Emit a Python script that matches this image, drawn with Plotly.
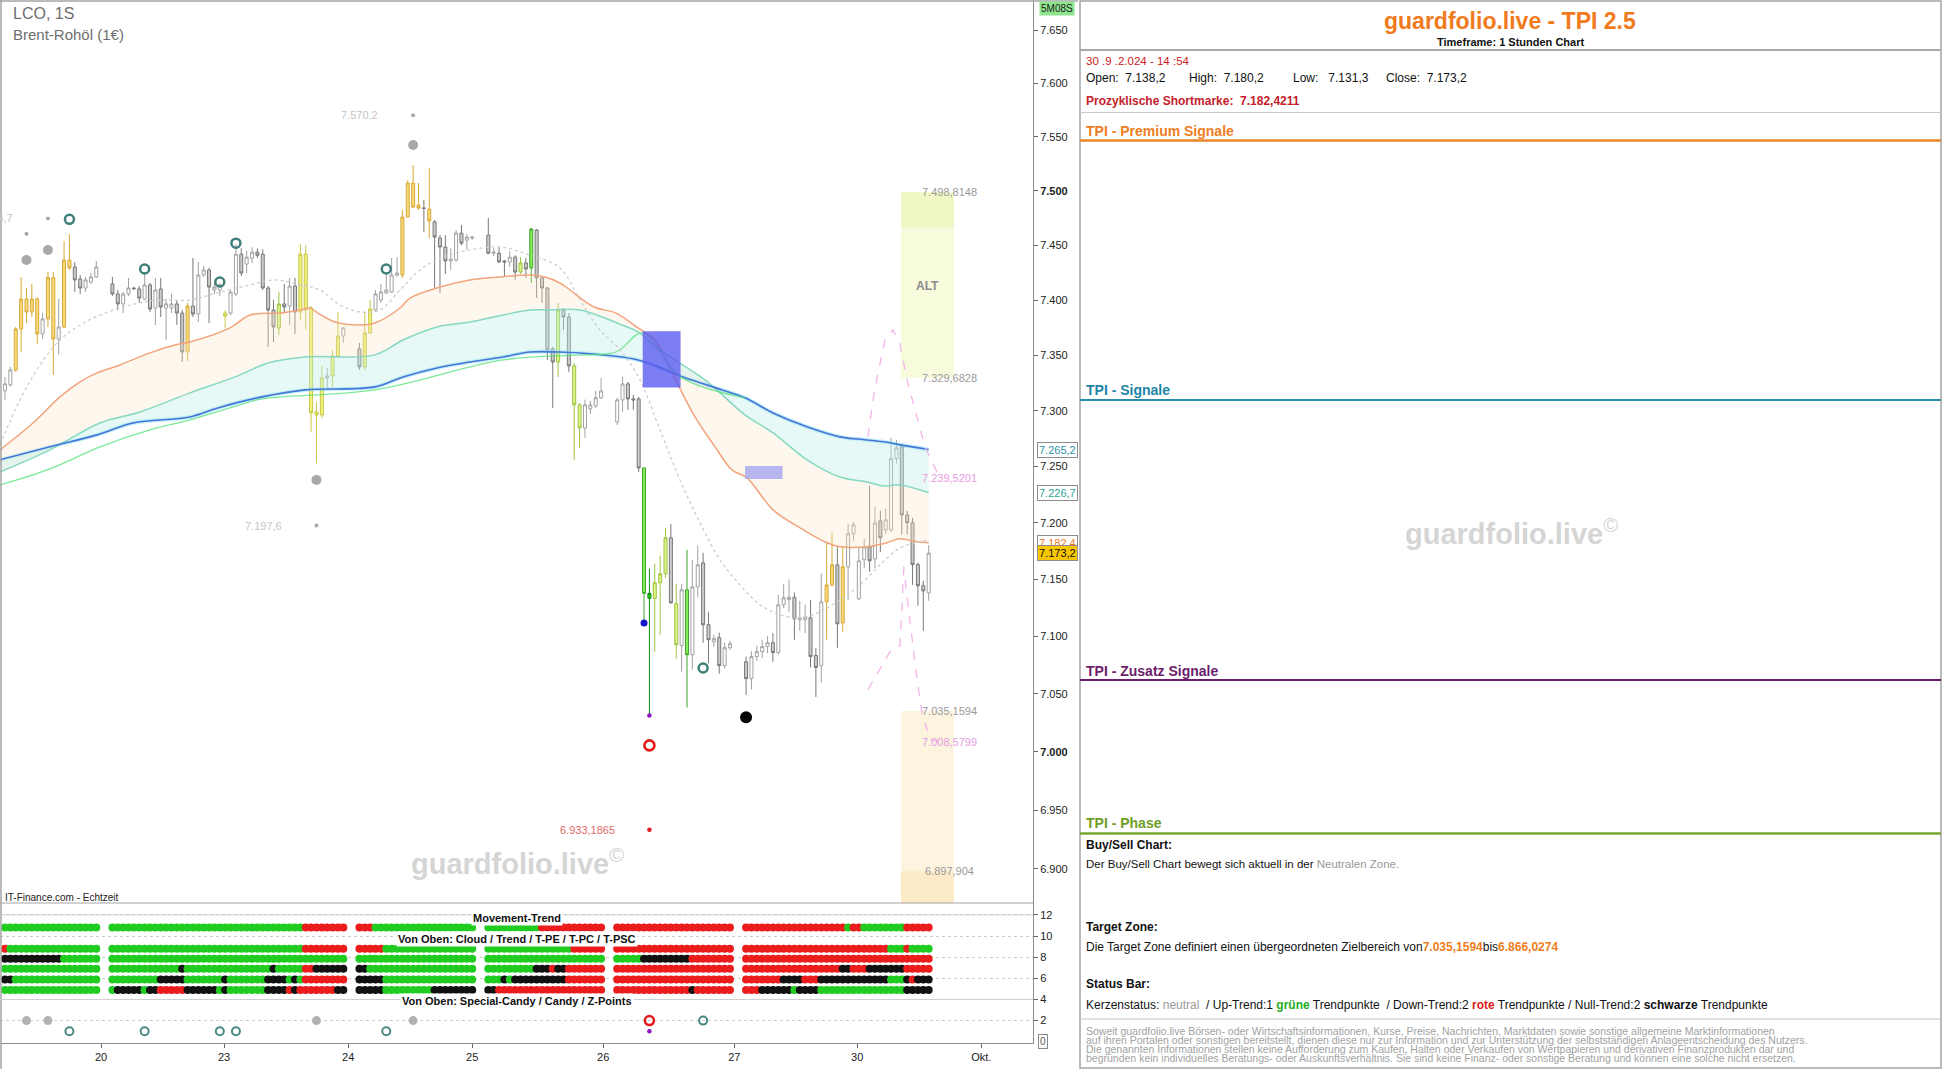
import math
import plotly.graph_objects as go

FIG_W, FIG_H = 1942, 1069
FONT = "Liberation Sans, Arial, Helvetica, sans-serif"

# ----------------------------------------------------------------------------
# Brent-Rohöl (LCO), 1-hour bars. Bars sit on consecutive slots; each trading
# block is followed by a couple of empty slots.
session_lengths = [18, 44, 22, 22, 22, 35]
session_gap = 2

opens = [
    7317.8, 7323.2, 7336.7, 7373.8, 7401.0, 7389.2, 7401.0, 7369.3, 7382.9, 7420.5,
    7364.7, 7375.6, 7436.6, 7430.2, 7419.3, 7411.0, 7416.5, 7421.1,
    7414.7, 7405.6, 7396.5, 7405.6, 7411.0, 7410.1, 7401.0, 7413.8, 7392.8, 7410.1,
    7392.8, 7392.8, 7396.5, 7388.2, 7353.0, 7394.6, 7387.3, 7422.9, 7427.5, 7409.2,
    7409.2, 7388.2, 7388.2, 7405.6, 7441.9, 7432.9, 7438.3, 7443.7, 7441.9, 7411.0,
    7391.0, 7374.7, 7396.5, 7394.6, 7412.8, 7389.2, 7441.9, 7392.8, 7298.9, 7296.2,
    7329.5, 7331.3, 7349.3, 7367.4,
    7355.7, 7339.4, 7370.2, 7391.0, 7400.1, 7406.5, 7407.4, 7422.9, 7422.9, 7476.0,
    7507.3, 7487.1, 7484.3, 7483.4, 7471.5, 7456.7, 7448.5, 7435.7, 7436.6, 7461.2,
    7454.8, 7456.7,
    7459.5, 7442.8, 7442.8, 7435.7, 7434.8, 7439.2, 7425.6, 7433.9, 7429.3, 7464.1,
    7420.2, 7411.0, 7355.7, 7343.9, 7391.0, 7384.6, 7340.3, 7305.2, 7284.6, 7301.6,
    7304.3, 7311.6,
    7289.9, 7309.7, 7324.1, 7310.6, 7310.6, 7248.8, 7133.4, 7133.4, 7147.1, 7155.0,
    7186.7, 7128.6, 7092.1, 7140.9, 7084.1, 7143.5, 7164.6, 7110.3, 7095.4, 7099.0,
    7074.6, 7090.2,
    7078.0, 7063.3, 7082.5, 7086.8, 7091.2, 7094.6, 7086.0, 7127.7, 7132.5, 7134.3,
    7114.6, 7114.6, 7116.4, 7083.4, 7074.6, 7130.3, 7145.2, 7162.9, 7111.9, 7161.1,
    7190.3, 7133.0, 7167.3, 7178.6, 7168.0, 7201.7, 7193.8, 7193.8, 7257.0, 7267.6,
    7207.0, 7200.0, 7163.1, 7144.5, 7138.2,
]
highs = [
    7330.4, 7339.4, 7375.6, 7421.1, 7411.0, 7414.7, 7402.8, 7388.5, 7425.5, 7425.5,
    7401.0, 7453.9, 7460.5, 7434.8, 7422.9, 7421.1, 7424.7, 7435.7,
    7421.1, 7409.2, 7407.4, 7420.2, 7412.0, 7412.8, 7425.5, 7415.6, 7420.2, 7420.2,
    7401.0, 7405.6, 7400.1, 7391.0, 7397.4, 7438.4, 7434.8, 7431.1, 7429.3, 7416.5,
    7415.6, 7391.0, 7409.2, 7451.0, 7447.3, 7445.0, 7448.2, 7447.3, 7446.4, 7412.8,
    7400.1, 7407.4, 7414.7, 7420.2, 7420.2, 7451.0, 7450.1, 7394.6, 7307.9, 7340.3,
    7338.5, 7354.8, 7389.2, 7375.6,
    7361.1, 7389.2, 7400.1, 7409.2, 7414.7, 7423.0, 7438.4, 7439.2, 7482.5, 7510.2,
    7524.0, 7507.3, 7491.7, 7521.2, 7473.3, 7459.5, 7459.5, 7447.3, 7464.1, 7468.7,
    7460.3, 7458.5,
    7475.1, 7447.3, 7448.2, 7436.6, 7444.7, 7441.0, 7439.2, 7438.3, 7465.9, 7465.0,
    7421.1, 7411.9, 7357.5, 7397.4, 7392.8, 7388.2, 7343.0, 7307.0, 7310.0, 7308.8,
    7317.8, 7329.5,
    7311.6, 7330.4, 7325.9, 7314.3, 7312.4, 7248.8, 7159.4, 7164.0, 7171.0, 7195.4,
    7198.9, 7146.2, 7146.2, 7176.1, 7167.3, 7179.8, 7173.4, 7121.6, 7101.6, 7103.4,
    7094.6, 7096.3,
    7082.5, 7087.1, 7091.9, 7097.2, 7100.5, 7103.0, 7136.5, 7146.2, 7150.0, 7138.6,
    7131.2, 7128.0, 7132.1, 7090.2, 7155.0, 7182.3, 7191.2, 7178.9, 7178.9, 7199.1,
    7200.9, 7178.0, 7186.0, 7232.8, 7214.2, 7210.6, 7212.4, 7275.6, 7273.8, 7270.3,
    7210.6, 7204.4, 7164.9, 7148.8, 7180.2,
]
lows = [
    7309.7, 7321.4, 7334.9, 7353.0, 7379.2, 7384.6, 7360.2, 7364.7, 7375.6, 7332.2,
    7350.6, 7374.7, 7427.5, 7407.4, 7405.6, 7407.4, 7414.7, 7420.2,
    7403.8, 7391.0, 7388.2, 7403.8, 7409.0, 7397.4, 7400.1, 7389.2, 7377.4, 7384.6,
    7363.8, 7388.2, 7377.4, 7343.9, 7344.8, 7384.6, 7380.1, 7421.1, 7379.2, 7405.6,
    7403.8, 7374.7, 7386.4, 7403.8, 7422.0, 7424.7, 7433.8, 7438.3, 7409.2, 7357.5,
    7362.0, 7368.4, 7389.2, 7377.4, 7369.3, 7381.9, 7372.9, 7281.0, 7252.7, 7293.5,
    7320.5, 7321.4, 7348.4, 7361.1,
    7336.7, 7336.7, 7369.3, 7389.2, 7397.4, 7405.6, 7406.5, 7421.1, 7420.2, 7476.0,
    7484.3, 7482.5, 7462.3, 7456.7, 7411.0, 7406.5, 7423.8, 7427.5, 7434.8, 7450.1,
    7445.8, 7455.0,
    7441.9, 7440.0, 7433.9, 7421.1, 7430.2, 7418.4, 7423.8, 7420.2, 7415.6, 7401.9,
    7397.4, 7345.7, 7302.5, 7330.4, 7372.9, 7334.9, 7256.0, 7266.7, 7275.6, 7297.1,
    7302.5, 7310.6,
    7287.2, 7298.9, 7300.7, 7300.7, 7245.2, 7114.6, 7032.2, 7086.8, 7101.7, 7151.4,
    7128.6, 7080.7, 7069.4, 7038.2, 7071.1, 7134.2, 7094.6, 7076.5, 7091.0, 7067.6,
    7072.0, 7088.5,
    7049.2, 7053.8, 7079.0, 7081.2, 7085.5, 7078.0, 7084.2, 7125.0, 7121.6, 7097.2,
    7105.0, 7103.0, 7073.0, 7047.4, 7059.7, 7097.2, 7143.5, 7090.2, 7104.1, 7132.1,
    7184.1, 7132.1, 7160.0, 7156.7, 7160.0, 7174.3, 7190.3, 7192.0, 7252.7, 7189.6,
    7189.6, 7145.3, 7126.9, 7105.0, 7131.3,
]
closes = [
    7324.1, 7336.7, 7373.8, 7401.0, 7389.2, 7401.0, 7369.3, 7382.9, 7420.5, 7364.7,
    7375.6, 7436.6, 7429.3, 7418.4, 7411.0, 7418.4, 7421.1, 7430.2,
    7405.6, 7396.5, 7405.6, 7411.0, 7410.5, 7401.9, 7413.8, 7391.9, 7409.2, 7393.7,
    7396.5, 7396.5, 7388.2, 7353.0, 7394.6, 7387.3, 7422.9, 7427.5, 7411.9, 7411.9,
    7413.8, 7385.5, 7407.4, 7441.9, 7424.7, 7439.2, 7443.7, 7440.9, 7411.0, 7391.0,
    7375.6, 7396.5, 7393.7, 7412.8, 7389.2, 7441.9, 7391.0, 7298.0, 7296.2, 7329.5,
    7331.3, 7349.3, 7367.4, 7374.7,
    7339.4, 7370.2, 7391.9, 7405.6, 7407.4, 7409.2, 7422.9, 7424.7, 7476.0, 7507.3,
    7485.2, 7484.3, 7484.0, 7472.4, 7457.6, 7448.5, 7435.7, 7437.4, 7461.2, 7452.0,
    7457.6, 7457.6,
    7442.8, 7443.7, 7434.8, 7434.8, 7439.2, 7425.6, 7433.9, 7428.4, 7465.0, 7420.2,
    7411.0, 7354.8, 7343.9, 7391.0, 7384.6, 7340.3, 7305.2, 7284.6, 7305.2, 7305.2,
    7311.6, 7317.8,
    7309.7, 7324.1, 7310.6, 7309.7, 7248.8, 7137.8, 7137.8, 7147.1, 7155.0, 7186.7,
    7129.5, 7092.9, 7140.9, 7084.1, 7143.5, 7162.9, 7110.3, 7097.2, 7098.1, 7074.6,
    7090.2, 7093.7,
    7063.3, 7082.5, 7086.8, 7091.2, 7094.6, 7086.0, 7127.7, 7133.9, 7134.3, 7115.5,
    7116.4, 7117.0, 7082.5, 7073.0, 7130.3, 7145.2, 7162.9, 7111.1, 7161.1, 7190.3,
    7198.2, 7166.4, 7178.6, 7166.4, 7199.9, 7186.7, 7202.6, 7257.0, 7266.7, 7207.0,
    7200.0, 7163.1, 7144.5, 7140.0, 7173.2,
]
# candle colour class per bar (W hollow, D grey, Y gold, y lemon, L lime, G green, g signal green)
candle_kinds = (
    "WWYYYYYWYYWYYDDWWW"
    "DDWWDDWDWDWWDDYDWWDWWyWWDWWDDDDLDWDyyyyyWyyW"
    "DyyWWWWWYYYYDYDDDWWDWW"
    "DWDDWDLDGDDDDLDDLLWWWW"
    "WWDDDGgLLLDLWGWWDDWDWW"
    "DWWWWDWWWDWWDDWYYDYWWWWDWDWWWDDDDDW"
)

# moving-average ribbon: (slot position, price)
ma_fast_pos = [-0.93, 5.21, 10.24, 13.97, 17.13, 21.42, 27.0, 31.66, 34.45, 41.9,
               45.62, 51.21, 54.93, 56.8, 58.29, 61.45, 66.1, 68.9, 73.56, 75.42,
               81.0, 86.59, 92.18, 97.77, 100.56, 103.35, 105.21, 109.68, 113.78, 117.88,
               121.04, 124.21, 128.49, 132.22, 135.38, 138.17, 143.02, 148.04, 153.07, 155.49,
               160.52, 164.25, 166.67, 169.83, 172.0]
ma_fast = [7264.9, 7289.0, 7312.4, 7325.9, 7334.0, 7341.2, 7352.1, 7359.3, 7362.0, 7374.7,
           7386.4, 7388.2, 7391.0, 7392.8, 7388.2, 7380.1, 7377.4, 7379.2, 7392.8, 7401.9,
           7411.9, 7418.4, 7421.1, 7422.9, 7421.1, 7415.6, 7409.2, 7393.7, 7388.2, 7374.7,
           7363.8, 7334.0, 7294.4, 7267.6, 7247.0, 7239.9, 7211.5, 7195.6, 7182.4, 7178.8,
           7178.8, 7182.4, 7185.8, 7183.2, 7182.4211]
ma_mid_pos = [-0.93, 8.38, 17.69, 25.14, 34.45, 42.83, 48.98, 55.87, 68.9, 74.12,
              80.45, 86.59, 92.74, 97.77, 101.49, 107.08, 114.9, 117.88, 121.97, 130.35,
              137.8, 143.02, 149.35, 155.49, 160.52, 163.5, 166.67, 172.0]
ma_mid = [7245.2, 7264.9, 7289.0, 7298.9, 7316.0, 7330.4, 7343.0, 7348.4, 7350.3, 7363.8,
          7375.6, 7380.1, 7386.4, 7391.0, 7391.0, 7391.0, 7377.4, 7371.1, 7354.8, 7327.7,
          7296.2, 7280.1, 7256.0, 7240.7, 7236.3, 7232.7, 7233.6, 7226.7]
ma_slow_pos = [-0.93, 8.38, 17.13, 23.84, 34.45, 39.66, 47.86, 55.87, 68.9, 74.12,
               80.45, 86.59, 92.74, 97.77, 102.79, 107.08, 117.88, 126.26, 133.52, 137.8,
               143.02, 149.35, 155.49, 160.52, 164.8, 166.67, 172.0]
ma_slow = [7256.0, 7267.6, 7278.3, 7289.0, 7294.4, 7302.5, 7312.4, 7318.7, 7321.4, 7330.4,
           7338.5, 7343.9, 7348.4, 7352.9, 7352.9, 7352.0, 7345.7, 7330.4, 7318.7, 7311.6,
           7298.0, 7285.5, 7276.5, 7273.8, 7271.2, 7269.4, 7265.2]
ma_green_pos = [-0.93, 8.38, 17.69, 27.0, 34.45, 43.76, 47.86, 68.9, 92.74, 107.08,
                113.78, 118.75, 125.8, 137.8]
ma_green = [7233.6, 7247.9, 7267.6, 7282.8, 7291.7, 7305.2, 7310.6, 7318.7, 7345.7, 7350.3,
            7352.9, 7370.2, 7330.4, 7311.6]
# dotted trailing line
trail_pos = [-0.93, 2.79, 6.52, 10.24, 13.97, 17.69, 23.28, 28.86, 34.45, 40.04,
             45.62, 50.28, 54.93, 58.66, 62.38, 66.1, 69.83, 73.56, 77.28, 81.0,
             86.59, 92.18, 97.77, 103.35, 107.08, 110.8, 114.53, 118.25, 121.97, 125.7,
             129.42, 133.15, 136.87, 140.6, 144.32, 148.04, 151.77, 155.49, 159.22, 162.94,
             166.67, 172.0]
trail = [7269.4, 7309.7, 7341.2, 7363.8, 7377.4, 7386.4, 7395.5, 7400.1, 7400.1, 7407.4,
         7413.8, 7418.4, 7413.8, 7409.2, 7395.5, 7389.2, 7391.0, 7409.2, 7427.5, 7438.3,
         7445.8, 7448.5, 7441.0, 7429.3, 7400.1, 7372.9, 7354.8, 7327.7, 7282.8, 7238.1,
         7199.9, 7167.3, 7145.3, 7127.7, 7119.0, 7116.4, 7121.6, 7132.1, 7145.3, 7162.9,
         7177.9, 7184.9]
# dashed projection paths
proj_a_pos = [160.7, 161.64, 162.38, 163.87, 165.36, 166.67, 167.97, 170.02, 171.32, 174.1]
proj_a = [7276.5, 7309.7, 7329.5, 7363.8, 7372.9, 7359.3, 7327.7, 7291.7, 7267.6, 7239.5201]
proj_b_pos = [160.7, 162.57, 164.8, 166.67, 167.04, 167.41]
proj_b = [7053.8, 7069.3, 7086.8, 7092.1, 7132.1, 7162.9]
proj_c_pos = [167.6, 168.5, 169.6, 170.8, 172.3, 174.1]
proj_c = [7149.7, 7114.6, 7071.1, 7032.2, 7010.7, 7008.5799]

# zones and boxes (prices)
alt_zone = (7329.6828, 7498.8148)
alt_zone_core_low = 7466.3
target_zone = (6866.0274, 7035.1594)
target_zone_floor = 6897.904
zone_pos = (166.85, 176.7)
signal_box = dict(pos=(118.75, 125.8), price=(7320.8, 7371.8))
pullback_box = dict(pos=(137.8, 144.8), price=(7239.0, 7250.6))

# signal markers in the price chart
special_candy_slots = [4, 8, 58, 76]
special_candy_prices = [7436.6, 7445.8, 7238.1, 7542.6]
level_dot_slots = [4, 8, 58, 76]
level_dot_prices = [7460.7, 7474.7, 7197.6, 7570.2]
level_dot_labelled = [False, True, True, True]
candy_slots = [12, 26, 40, 43, 71, 130]
candy_prices = [7473.9, 7428.4, 7416.5, 7452.0, 7428.4, 7072.5]
zpoint_blue = (119, 7111.7)
zpoint_purple = (120, 7031.3)
zpoint_red_ring = (120, 7005.5)
zpoint_red_level = (120, 6933.1865)
zpoint_black = (138, 7029.8)

# status rows of the lower panel (run-length: colour + count of bars)
row_movement = "g54 r11 g29 r53 g1 r2 g8 r5"
row_cloud = "r1 g53 r13 g33 r55 g3 r1 g4"
row_trend = "k11 g100 k9 r43"
row_tpe = "g31 k1 g16 k1 g5 r2 k8 g29 k3 r1 k2 r47 k2 r3 k7 r5"
row_tpc = "k2 g25 k5 g7 k1 g7 k4 g1 k1 g1 r8 k5 g20 k1 g1 k10 r36 k4 r3 k13 g3 k1 r1 k3"
row_tpsc = "g19 k5 g1 k2 r5 k6 g1 k1 g7 k4 r1 k1 r7 k7 g9 k10 r34 k1 r10 k6 g1 k4 g16 k5"
row_levels = [10.8, 8.8, 7.85, 6.9, 5.9, 4.9]
panel_special_slots = [4, 8, 58, 76]
panel_candy_slots = [12, 26, 40, 43, 71]
panel_candy_upper_slots = [130]
panel_zring_slots = [120]
panel_zdot_slots = [120]

day_labels = ["20", "23", "24", "25", "26", "27", "30", "Okt."]
day_tick_slots = [17.9, 40.8, 63.9, 87.0, 111.4, 135.8, 158.7, 181.8]
price_ticks = list(range(6900, 7651, 50))
bold_ticks = {7000, 7500}

price_window = (6871.0, 7678.3)
slot_window = (-0.93, 191.43)
panel_window = (-0.12, 13.13)

# ----------------------------------------------------------------------------
PLOT_RIGHT, MAIN_BOTTOM, LOWER_BOTTOM = 1033, 903, 1043


def fx(px):
    return px / FIG_W


def fy(py):
    return 1 - py / FIG_H


def de_num(v, nd):
    s = f"{v:,.{nd}f}"
    return s.replace(",", "#").replace(".", ",").replace("#", ".")


def expand(runs):
    out = []
    for tok in runs.split():
        out += [tok[0]] * int(tok[1:])
    return out


n_bars = sum(session_lengths)
assert len(opens) == len(highs) == len(lows) == len(closes) == len(candle_kinds) == n_bars

slots = []
start = 0
for n in session_lengths:
    slots.extend(range(start, start + n))
    start += n + session_gap

fig = go.Figure()

# --- target / ALT zones ---------------------------------------------------


def rect_trace(x0, x1, y0, y1, color, xa="x", ya="y"):
    return go.Scatter(x=[x0, x1, x1, x0, x0], y=[y0, y0, y1, y1, y0], mode="lines",
                      fill="toself", fillcolor=color, line=dict(width=0),
                      hoverinfo="skip", xaxis=xa, yaxis=ya)


fig.add_trace(rect_trace(zone_pos[0], zone_pos[1], alt_zone[0], alt_zone[1], "#f7fbdc"))
fig.add_trace(rect_trace(zone_pos[0], zone_pos[1], alt_zone_core_low, alt_zone[1], "#f0f7c4"))
fig.add_trace(rect_trace(zone_pos[0], zone_pos[1], target_zone[0], target_zone[1], "#fdf4df"))
fig.add_trace(rect_trace(zone_pos[0], zone_pos[1], target_zone[0], target_zone_floor, "#fcebc6"))

# --- moving-average ribbon ------------------------------------------------
fig.add_trace(go.Scatter(x=ma_slow_pos, y=ma_slow, mode="lines",
                         line=dict(color="rgba(120,220,240,0.45)", width=4, shape="spline"),
                         hoverinfo="skip"))
fig.add_trace(go.Scatter(x=ma_fast_pos, y=ma_fast, mode="lines",
                         line=dict(color="#f2a47c", width=1.5, shape="spline"), hoverinfo="skip"))
fig.add_trace(go.Scatter(x=ma_mid_pos, y=ma_mid, mode="lines", fill="tonexty",
                         fillcolor="rgba(250,228,196,0.30)",
                         line=dict(color="#86d8c0", width=1.5, shape="spline"), hoverinfo="skip"))
fig.add_trace(go.Scatter(x=ma_slow_pos, y=ma_slow, mode="lines", fill="tonexty",
                         fillcolor="rgba(190,238,232,0.38)",
                         line=dict(color="#4475d8", width=1.6, shape="spline"), hoverinfo="skip"))
fig.add_trace(go.Scatter(x=ma_green_pos, y=ma_green, mode="lines",
                         line=dict(color="rgba(80,225,120,0.75)", width=1.3, shape="spline"),
                         hoverinfo="skip"))

# trailing dotted line and projections
fig.add_trace(go.Scatter(x=trail_pos, y=trail, mode="lines",
                         line=dict(color="#cdcdcd", width=1.3, dash="dot", shape="spline"),
                         hoverinfo="skip"))
for px_, py_ in ((proj_a_pos, proj_a), (proj_b_pos, proj_b), (proj_c_pos, proj_c)):
    fig.add_trace(go.Scatter(x=px_, y=py_, mode="lines",
                             line=dict(color="#f3b4ea", width=1.3, dash="dash"),
                             hoverinfo="skip"))

# signal boxes
fig.add_trace(rect_trace(*signal_box["pos"], *signal_box["price"], "rgba(88,88,240,0.78)"))
fig.add_trace(rect_trace(*pullback_box["pos"], *pullback_box["price"], "rgba(165,165,238,0.8)"))

# --- candles ---------------------------------------------------------------
kind_style = {
    "W": ("#ffffff", "#a2a2a2"),
    "D": ("#cbcbcb", "#787878"),
    "Y": ("#f9d97a", "#d6aa38"),
    "y": ("#f3f37c", "#c6c644"),
    "L": ("#def58c", "#9cc23e"),
    "G": ("#86ec5a", "#3fa52b"),
    "g": ("#1fd01f", "#0f8a0f"),
}
for kind, (fill, edge) in kind_style.items():
    idx = [i for i, k in enumerate(candle_kinds) if k == kind]
    if not idx:
        continue
    style = dict(fillcolor=fill, line=dict(color=edge, width=1))
    fig.add_trace(go.Candlestick(
        x=[slots[i] for i in idx], open=[opens[i] for i in idx],
        high=[highs[i] for i in idx], low=[lows[i] for i in idx],
        close=[closes[i] for i in idx], increasing=style, decreasing=style,
        whiskerwidth=0, hoverinfo="skip", showlegend=False))

# --- markers in the price chart ---------------------------------------------
fig.add_trace(go.Scatter(x=special_candy_slots, y=special_candy_prices, mode="markers",
                         marker=dict(size=10, color="#a9a9a9"), hoverinfo="skip"))
fig.add_trace(go.Scatter(x=level_dot_slots, y=level_dot_prices, mode="markers",
                         marker=dict(size=4, color="#a9a9a9"), hoverinfo="skip"))
fig.add_trace(go.Scatter(x=candy_slots, y=candy_prices, mode="markers",
                         marker=dict(size=9, symbol="circle-open", color="#3f7f79",
                                     line=dict(width=2.5, color="#3f7f79")), hoverinfo="skip"))
fig.add_trace(go.Scatter(x=[zpoint_blue[0]], y=[zpoint_blue[1]], mode="markers",
                         marker=dict(size=7, color="#1414cc"), hoverinfo="skip"))
fig.add_trace(go.Scatter(x=[zpoint_purple[0]], y=[zpoint_purple[1]], mode="markers",
                         marker=dict(size=4.5, color="#8a12c4"), hoverinfo="skip"))
fig.add_trace(go.Scatter(x=[zpoint_red_ring[0]], y=[zpoint_red_ring[1]], mode="markers",
                         marker=dict(size=10, symbol="circle-open", color="#e41818",
                                     line=dict(width=2.6, color="#e41818")), hoverinfo="skip"))
fig.add_trace(go.Scatter(x=[zpoint_red_level[0]], y=[zpoint_red_level[1]], mode="markers",
                         marker=dict(size=4.5, color="#e41818"), hoverinfo="skip"))
fig.add_trace(go.Scatter(x=[zpoint_black[0]], y=[zpoint_black[1]], mode="markers",
                         marker=dict(size=12, color="#050505"), hoverinfo="skip"))

# --- lower status panel -------------------------------------------------------
dot_colors = {"g": "#1fcc1f", "r": "#ea1c1c", "k": "#111111"}
for level, runs in zip(row_levels, [row_movement, row_cloud, row_trend, row_tpe, row_tpc, row_tpsc]):
    codes = expand(runs)
    assert len(codes) == n_bars
    fig.add_trace(go.Scatter(x=slots, y=[level] * n_bars, mode="markers",
                             marker=dict(size=8, color=[dot_colors[c] for c in codes]),
                             xaxis="x2", yaxis="y2", hoverinfo="skip"))
fig.add_trace(go.Scatter(x=panel_special_slots, y=[2] * len(panel_special_slots), mode="markers",
                         marker=dict(size=9, color="#b2b2b2"), xaxis="x2", yaxis="y2", hoverinfo="skip"))
fig.add_trace(go.Scatter(x=panel_candy_slots, y=[1] * len(panel_candy_slots), mode="markers",
                         marker=dict(size=8, symbol="circle-open", color="#4a8a84",
                                     line=dict(width=2, color="#4a8a84")),
                         xaxis="x2", yaxis="y2", hoverinfo="skip"))
fig.add_trace(go.Scatter(x=panel_candy_upper_slots, y=[2] * len(panel_candy_upper_slots), mode="markers",
                         marker=dict(size=8, symbol="circle-open", color="#4a8a84",
                                     line=dict(width=2, color="#4a8a84")),
                         xaxis="x2", yaxis="y2", hoverinfo="skip"))
fig.add_trace(go.Scatter(x=panel_zring_slots, y=[2] * len(panel_zring_slots), mode="markers",
                         marker=dict(size=9, symbol="circle-open", color="#e41818",
                                     line=dict(width=2.5, color="#e41818")),
                         xaxis="x2", yaxis="y2", hoverinfo="skip"))
fig.add_trace(go.Scatter(x=panel_zdot_slots, y=[1] * len(panel_zdot_slots), mode="markers",
                         marker=dict(size=4.5, color="#8a12c4"), xaxis="x2", yaxis="y2",
                         hoverinfo="skip"))

# ----------------------------------------------------------------------------
ann = []


def txt(text, x, y, size=12, color="#111", xanchor="left", **kw):
    d = dict(text=text, x=fx(x), y=fy(y), xref="paper", yref="paper", xanchor=xanchor,
             yanchor="middle", showarrow=False, font=dict(family=FONT, size=size, color=color))
    d.update(kw)
    ann.append(d)


def price_label(text, slot, price, color, size=11, xanchor="right", bold=False):
    ann.append(dict(text=f"<b>{text}</b>" if bold else text, x=slot, y=math.log10(price),
                    xref="x", yref="y", xanchor=xanchor, yanchor="middle", showarrow=False,
                    font=dict(family=FONT, size=size, color=color)))


# chart header and footer
txt("LCO, 1S", 11, 14, size=16, color="#6e6e6e")
txt("Brent-Rohöl (1€)", 11, 35, size=15, color="#6e6e6e")
txt("IT-Finance.com - Echtzeit", 3, 897, size=10, color="#222")
txt("<b>guardfolio.live</b><sup>©</sup>", 517, 862, size=29, color="#d5d5d5", xanchor="center")

# level labels next to the small dots
label_gap = 6.1
for s, p, show in zip(level_dot_slots, level_dot_prices, level_dot_labelled):
    if show:
        price_label(de_num(p, 1), s - label_gap, p, "#c6c6c6")
price_label(de_num(zpoint_red_level[1], 4), zpoint_red_level[0] - label_gap,
            zpoint_red_level[1], "#e36a6a")

# zone labels
zone_label_slot = 181.4
price_label(de_num(alt_zone[1], 4), zone_label_slot, alt_zone[1], "#9a9a9a")
price_label(de_num(alt_zone[0], 4), zone_label_slot, alt_zone[0], "#9a9a9a")
price_label(de_num(proj_a[-1], 4), zone_label_slot, proj_a[-1], "#e79be3")
price_label(de_num(target_zone[1], 4), zone_label_slot, target_zone[1], "#9a9a9a")
price_label(de_num(proj_c[-1], 4), zone_label_slot, proj_c[-1], "#e79be3")
price_label(de_num(target_zone_floor, 3), zone_label_slot - 0.6, target_zone_floor, "#9a9a9a")
price_label("ALT", (zone_pos[0] + zone_pos[1]) / 2, 7412.8, "#8a8a8a", size=12,
            xanchor="center", bold=True)

# lower panel captions
for caption, lvl in (("Movement-Trend", 11.75),
                     ("Von Oben: Cloud / Trend / T-PE / T-PC / T-PSC", 9.7),
                     ("Von Oben: Special-Candy / Candy / Z-Points", 3.85)):
    ann.append(dict(text=f"<b>{caption}</b>", x=95.3, y=lvl, xref="x2", yref="y2",
                    xanchor="center", yanchor="middle", showarrow=False, bgcolor="white",
                    font=dict(family=FONT, size=11, color="#111")))
ann.append(dict(text="0", x=fx(1043), y=0, xref="paper", yref="y2", xanchor="center",
                yanchor="middle", showarrow=False, bordercolor="#888", borderwidth=1,
                borderpad=1, bgcolor="white", font=dict(family=FONT, size=10, color="#555")))

# price axis value tags
tag_x = fx(1057.5)


def axis_tag(value, color, bg="white", bold=False):
    t = de_num(value, 1)
    ann.append(dict(text=f"<b>{t}</b>" if bold else t, x=tag_x, y=math.log10(value),
                    xref="paper", yref="y", xanchor="center", yanchor="middle",
                    showarrow=False, bgcolor=bg, bordercolor="#8c8c8c", borderwidth=1,
                    borderpad=1, font=dict(family=FONT, size=11, color=color)))


axis_tag(ma_slow[-1], "#2b93a8")
axis_tag(ma_mid[-1], "#2aa39a")
axis_tag(ma_fast[-1], "#ef7a22")
axis_tag(closes[-1], "#111", bg="#f7c600")
ann.append(dict(text="5M08S", x=fx(1056.5), y=fy(8), xref="paper", yref="paper",
                xanchor="center", yanchor="middle", showarrow=False, bgcolor="#8fe48f",
                borderpad=1, font=dict(family=FONT, size=10, color="#1a1a1a")))

# ----------------------------------------------------------------------------
# side panel
PX = 1084
txt("<b>guardfolio.live - TPI 2.5</b>", 1510, 21, size=23, color="#f07a1c", xanchor="center")
txt("<b>Timeframe: 1 Stunden Chart</b>", 1510, 42, size=11, color="#111", xanchor="center")
txt("30 .9 .2.024 - 14 :54", PX, 61, size=11.5, color="#cc2020")
txt(f"Open:&nbsp;&nbsp;{de_num(opens[-1], 1)}", PX, 78, size=12)
txt(f"High:&nbsp;&nbsp;{de_num(highs[-1], 1)}", 1187, 78, size=12)
txt(f"Low:&nbsp;&nbsp;&nbsp;{de_num(lows[-1], 1)}", 1291, 78, size=12)
txt(f"Close:&nbsp;&nbsp;{de_num(closes[-1], 1)}", 1384, 78, size=12)
txt(f"<b>Prozyklische Shortmarke:&nbsp;&nbsp;{de_num(ma_fast[-1], 4)}</b>", PX, 101, size=12,
    color="#c4202c")
txt("<b>TPI - Premium Signale</b>", PX, 131, size=14, color="#ee7d22")
txt("<b>TPI - Signale</b>", PX, 390, size=14, color="#1d84a6")
txt("<b>TPI - Zusatz Signale</b>", PX, 671, size=14, color="#6c1d6c")
txt("<b>TPI - Phase</b>", PX, 823, size=14, color="#6e9e24")
txt("<b>guardfolio.live</b><sup>©</sup>", 1511, 532, size=29, color="#d5d5d5", xanchor="center")

txt("<b>Buy/Sell Chart:</b>", PX, 845, size=12)
txt("Der Buy/Sell Chart bewegt sich aktuell in der "
    "<span style='color:#9a9a9a'>Neutralen Zone.</span>", PX, 864, size=11.5)
txt("<b>Target Zone:</b>", PX, 927, size=12)
txt("Die Target Zone definiert einen übergeordneten Zielbereich von"
    f"<span style='color:#ee7d22'><b>{de_num(target_zone[1], 4)}</b></span>bis"
    f"<span style='color:#ee7d22'><b>{de_num(target_zone[0], 4)}</b></span>", PX, 947, size=12)
txt("<b>Status Bar:</b>", PX, 984, size=12)

last_state = [expand(r)[-1] for r in (row_cloud, row_trend, row_tpe, row_tpc, row_tpsc)]
n_up, n_down, n_null = last_state.count("g"), last_state.count("r"), last_state.count("k")
txt("Kerzenstatus: <span style='color:#9a9a9a'>neutral</span>&nbsp;&nbsp;"
    f"/ Up-Trend:{n_up} <b><span style='color:#1fae1f'>grüne</span></b> Trendpunkte&nbsp;&nbsp;"
    f"/ Down-Trend:{n_down} <b><span style='color:#e01818'>rote</span></b> Trendpunkte "
    f"/ Null-Trend:{n_null} <b>schwarze</b> Trendpunkte", PX, 1005, size=12)

disclaimer = [
    "Soweit guardfolio.live Börsen- oder Wirtschaftsinformationen, Kurse, Preise, Nachrichten, "
    "Marktdaten sowie sonstige allgemeine Marktinformationen",
    "auf ihren Portalen oder sonstigen bereitstellt, dienen diese nur zur Information und zur "
    "Unterstützung der selbstständigen Anlageentscheidung des Nutzers.",
    "Die genannten Informationen stellen keine Aufforderung zum Kaufen, Halten oder Verkaufen von "
    "Wertpapieren und derivativen Finanzprodukten dar und",
    "begründen kein individuelles Beratungs- oder Auskunftsverhältnis. Sie sind keine Finanz- oder "
    "sonstige Beratung und können eine solche nicht ersetzen.",
]
for i, line in enumerate(disclaimer):
    txt(line, PX, 1031 + i * 9.1, size=10.5, color="#a2a2a2")

# ----------------------------------------------------------------------------
shapes = []


def hline(y, x0, x1, color, width=1, dash="solid"):
    shapes.append(dict(type="line", xref="paper", yref="paper", x0=fx(x0), x1=fx(x1),
                       y0=fy(y), y1=fy(y), line=dict(color=color, width=width, dash=dash)))


def vline(x, y0, y1, color, width=1):
    shapes.append(dict(type="line", xref="paper", yref="paper", x0=fx(x), x1=fx(x),
                       y0=fy(y0), y1=fy(y1), line=dict(color=color, width=width)))


# side panel frame and section rules
shapes.append(dict(type="rect", xref="paper", yref="paper", x0=fx(1080), x1=fx(1941),
                   y0=fy(1068), y1=fy(1), line=dict(color="#a4a4a4", width=1.5)))
hline(50, 1080, 1941, "#a8a8a8", 2)
hline(112.5, 1080, 1941, "#c8c8c8", 1)
hline(140.5, 1080, 1941, "#ec8326", 2.5)
hline(400, 1080, 1941, "#2b8bab", 2)
hline(680, 1080, 1941, "#6d1d6d", 2)
hline(833.5, 1080, 1941, "#78a832", 2.5)
hline(1019, 1080, 1941, "#c4c4c4", 1)
# chart frame and panel separator
hline(1, 0, 1078, "#a4a4a4", 1.5)
vline(1, 0, 1069, "#a4a4a4", 1.5)
hline(MAIN_BOTTOM, 0, PLOT_RIGHT, "#a4a4a4", 1)
for lvl in (12, 4):
    shapes.append(dict(type="line", xref="paper", yref="y2", x0=0, x1=fx(PLOT_RIGHT),
                       y0=lvl, y1=lvl, line=dict(color="#cfcfcf", width=1)))

tick_text = [f"<b>{de_num(v, 0)}</b>" if v in bold_ticks else de_num(v, 0) for v in price_ticks]

fig.update_layout(
    width=FIG_W, height=FIG_H, autosize=False,
    margin=dict(l=0, r=0, t=0, b=0, pad=0),
    paper_bgcolor="white", plot_bgcolor="white",
    showlegend=False, hovermode=False, template="none",
    boxgap=0.2,
    font=dict(family=FONT, size=11, color="#222"),
    xaxis=dict(domain=[0, fx(PLOT_RIGHT)], range=list(slot_window), anchor="y",
               showticklabels=False, showgrid=False, zeroline=False, showline=False,
               rangeslider=dict(visible=False), fixedrange=True),
    yaxis=dict(domain=[fy(MAIN_BOTTOM), 1], type="log",
               range=[math.log10(price_window[0]), math.log10(price_window[1])],
               side="right", anchor="x", showgrid=False, zeroline=False, showline=True,
               linecolor="#8c8c8c", linewidth=1, ticks="outside", ticklen=4, tickcolor="#666",
               tickvals=price_ticks, ticktext=tick_text,
               tickfont=dict(family=FONT, size=11, color="#222"), fixedrange=True),
    xaxis2=dict(domain=[0, fx(PLOT_RIGHT)], range=list(slot_window), anchor="y2",
                showgrid=False, zeroline=False, showline=True, linecolor="#8c8c8c",
                ticks="outside", ticklen=4, tickcolor="#666",
                tickvals=day_tick_slots, ticktext=day_labels,
                tickfont=dict(family=FONT, size=11, color="#222"), fixedrange=True),
    yaxis2=dict(domain=[fy(LOWER_BOTTOM), fy(MAIN_BOTTOM)], range=list(panel_window),
                side="right", anchor="x2", showgrid=True, gridcolor="#cdcdcd", griddash="dot",
                zeroline=False, showline=True, linecolor="#8c8c8c", ticks="outside",
                ticklen=4, tickcolor="#666", tickvals=[2, 4, 6, 8, 10, 12],
                tickfont=dict(family=FONT, size=11, color="#222"), fixedrange=True),
    annotations=ann,
    shapes=shapes,
)

fig.write_html("out.html", config={"displayModeBar": False})
